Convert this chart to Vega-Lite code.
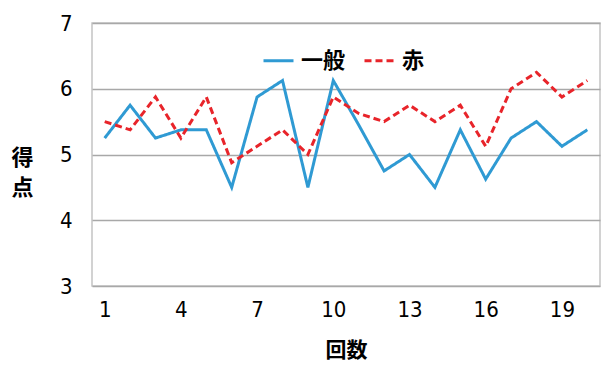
{
  "$schema": "https://vega.github.io/schema/vega-lite/v6.json",
  "autosize": {"type": "none"},
  "width": 508,
  "height": 263,
  "padding": {"left": 92, "top": 23, "right": 1, "bottom": 79},
  "background": "white",
  "config": {
    "view": {"stroke": "#c4c4c4", "strokeWidth": 1.5},
    "font": "Noto Sans CJK JP"
  },
  "data": {
    "values": [
      {"x": 1, "series": "一般", "value": 5.25},
      {"x": 2, "series": "一般", "value": 5.75},
      {"x": 3, "series": "一般", "value": 5.25},
      {"x": 4, "series": "一般", "value": 5.375},
      {"x": 5, "series": "一般", "value": 5.375},
      {"x": 6, "series": "一般", "value": 4.5},
      {"x": 7, "series": "一般", "value": 5.875},
      {"x": 8, "series": "一般", "value": 6.125},
      {"x": 9, "series": "一般", "value": 4.5},
      {"x": 10, "series": "一般", "value": 6.125},
      {"x": 11, "series": "一般", "value": 5.45},
      {"x": 12, "series": "一般", "value": 4.75},
      {"x": 13, "series": "一般", "value": 5.0},
      {"x": 14, "series": "一般", "value": 4.5},
      {"x": 15, "series": "一般", "value": 5.375},
      {"x": 16, "series": "一般", "value": 4.625},
      {"x": 17, "series": "一般", "value": 5.25},
      {"x": 18, "series": "一般", "value": 5.5},
      {"x": 19, "series": "一般", "value": 5.125},
      {"x": 20, "series": "一般", "value": 5.375},
      {"x": 1, "series": "赤", "value": 5.5},
      {"x": 2, "series": "赤", "value": 5.375},
      {"x": 3, "series": "赤", "value": 5.875},
      {"x": 4, "series": "赤", "value": 5.25},
      {"x": 5, "series": "赤", "value": 5.875},
      {"x": 6, "series": "赤", "value": 4.875},
      {"x": 7, "series": "赤", "value": 5.125},
      {"x": 8, "series": "赤", "value": 5.375},
      {"x": 9, "series": "赤", "value": 5.0},
      {"x": 10, "series": "赤", "value": 5.875},
      {"x": 11, "series": "赤", "value": 5.625},
      {"x": 12, "series": "赤", "value": 5.5},
      {"x": 13, "series": "赤", "value": 5.75},
      {"x": 14, "series": "赤", "value": 5.5},
      {"x": 15, "series": "赤", "value": 5.75},
      {"x": 16, "series": "赤", "value": 5.125},
      {"x": 17, "series": "赤", "value": 6.0},
      {"x": 18, "series": "赤", "value": 6.25},
      {"x": 19, "series": "赤", "value": 5.875},
      {"x": 20, "series": "赤", "value": 6.125}
    ]
  },
  "mark": {"type": "line", "strokeWidth": 3, "strokeCap": "butt"},
  "encoding": {
    "x": {
      "field": "x",
      "type": "quantitative",
      "scale": {"domain": [0.5, 20.5], "nice": false, "zero": false},
      "axis": {
        "values": [1, 4, 7, 10, 13, 16, 19],
        "grid": false,
        "domain": false,
        "ticks": false,
        "labelFont": "DejaVu Sans Condensed, Liberation Sans, sans-serif",
        "labelFontSize": 22,
        "labelColor": "black",
        "labelPadding": 13,
        "labelFlush": false,
        "title": "回数",
        "titleFont": "Noto Sans CJK JP",
        "titleFontSize": 21,
        "titleFontWeight": "bold",
        "titleColor": "black",
        "titleBaseline": "middle",
        "titleY": 64
      }
    },
    "y": {
      "field": "value",
      "type": "quantitative",
      "scale": {"domain": [3, 7], "nice": false, "zero": false},
      "axis": {
        "values": [3, 4, 5, 6, 7],
        "grid": true,
        "gridColor": "#a8a8a8",
        "gridWidth": 1.5,
        "domain": false,
        "ticks": false,
        "labelFont": "DejaVu Sans Condensed, Liberation Sans, sans-serif",
        "labelFontSize": 22,
        "labelColor": "black",
        "labelPadding": 20,
        "labelFlush": false,
        "title": ["得", "点"],
        "titleAngle": 0,
        "titleFont": "Noto Sans CJK JP",
        "titleFontSize": 22,
        "titleFontWeight": "bold",
        "titleColor": "black",
        "titleLineHeight": 30,
        "titleAlign": "center",
        "titleBaseline": "middle",
        "titleX": -70,
        "titleY": 134
      }
    },
    "color": {
      "field": "series",
      "type": "nominal",
      "scale": {"domain": ["一般", "赤"], "range": ["#2f9ad3", "#e8242a"]},
      "legend": {
        "title": null,
        "orient": "none",
        "direction": "horizontal",
        "legendX": 170,
        "legendY": 21,
        "symbolType": "stroke",
        "symbolSize": 900,
        "symbolStrokeWidth": 3,
        "labelFont": "Noto Sans CJK JP",
        "labelFontSize": 22,
        "labelFontWeight": "bold",
        "labelColor": "black",
        "labelOffset": 6,
        "columnPadding": 12
      }
    },
    "strokeDash": {
      "field": "series",
      "type": "nominal",
      "scale": {"domain": ["一般", "赤"], "range": [[1, 0], [7, 4]]},
      "legend": {
        "title": null,
        "orient": "none",
        "direction": "horizontal",
        "legendX": 170,
        "legendY": 21,
        "symbolType": "stroke",
        "symbolSize": 900,
        "symbolStrokeWidth": 3,
        "labelFont": "Noto Sans CJK JP",
        "labelFontSize": 22,
        "labelFontWeight": "bold",
        "labelColor": "black",
        "labelOffset": 6,
        "columnPadding": 12
      }
    }
  }
}
